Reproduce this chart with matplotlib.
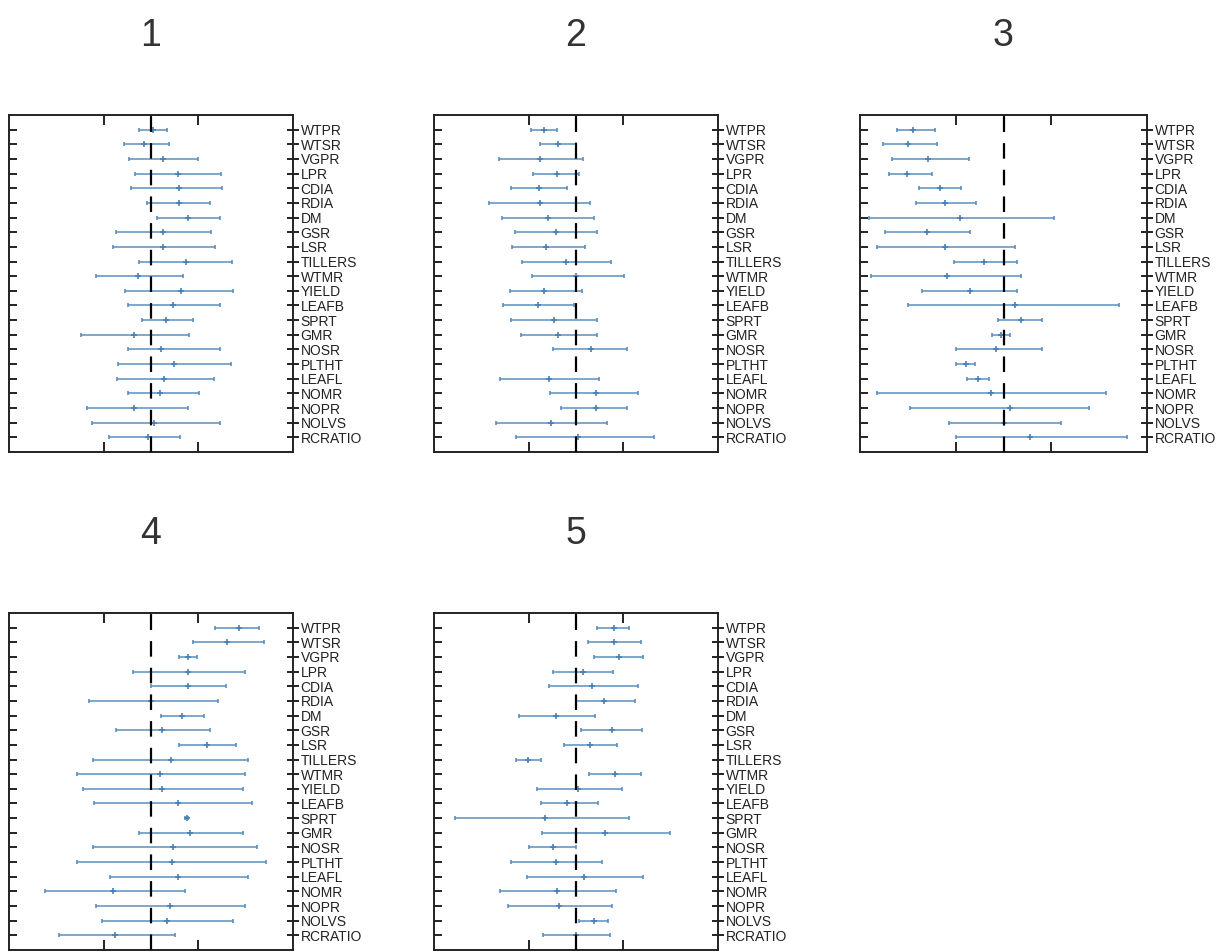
import numpy as np
import matplotlib
matplotlib.use("Agg")
import matplotlib.pyplot as plt

plt.rcParams['font.family'] = ['Liberation Sans', 'DejaVu Sans']

# trait names, top to bottom
traits = ['WTPR', 'WTSR', 'VGPR', 'LPR', 'CDIA', 'RDIA', 'DM', 'GSR', 'LSR',
          'TILLERS', 'WTMR', 'YIELD', 'LEAFB', 'SPRT', 'GMR', 'NOSR', 'PLTHT',
          'LEAFL', 'NOMR', 'NOPR', 'NOLVS', 'RCRATIO']

# cluster 1
mid_1 = [0.04, -0.14, 0.25, 0.57, 0.59, 0.60, 0.78, 0.25, 0.26, 0.73, -0.28,
         0.64, 0.46, 0.32, -0.35, 0.21, 0.49, 0.28, 0.18, -0.35, 0.06, -0.07]
lo_1 = [-0.26, -0.58, -0.46, -0.33, -0.42, -0.09, 0.13, -0.74, -0.80, -0.26, -1.17,
        -0.55, -0.49, -0.20, -1.47, -0.49, -0.69, -0.71, -0.48, -1.36, -1.24, -0.88]
hi_1 = [0.33, 0.37, 0.99, 1.47, 1.51, 1.24, 1.46, 1.27, 1.36, 1.72, 0.67,
        1.73, 1.45, 0.88, 0.81, 1.46, 1.68, 1.34, 1.02, 0.79, 1.45, 0.61]

# cluster 2 (no estimate for PLTHT)
mid_2 = [-0.67, -0.39, -0.77, -0.40, -0.79, -0.77, -0.60, -0.42, -0.63, -0.21, 0.00,
         -0.67, -0.81, -0.46, -0.39, 0.32, np.nan, -0.56, 0.42, 0.42, -0.53, 0.04]
lo_2 = [-0.96, -0.77, -1.62, -0.90, -1.37, -1.83, -1.56, -1.28, -1.36, -1.14, -0.92,
        -1.39, -1.54, -1.37, -1.16, -0.49, np.nan, -1.60, -0.54, -0.32, -1.70, -1.27]
hi_2 = [-0.40, 0.01, 0.14, 0.07, -0.18, 0.30, 0.37, 0.44, 0.18, 0.73, 1.02,
        0.12, -0.04, 0.44, 0.44, 1.07, np.nan, 0.49, 1.30, 1.07, 0.65, 1.64]

# cluster 3
mid_3 = [-1.90, -1.99, -1.57, -2.01, -1.32, -1.22, -0.90, -1.60, -1.22, -0.40, -1.18,
         -0.69, 0.25, 0.37, -0.05, -0.16, -0.79, -0.54, -0.26, 0.13, 0.02, 0.55]
lo_3 = [-2.22, -2.52, -2.33, -2.40, -1.76, -1.83, -2.81, -2.47, -2.64, -1.04, -2.76,
        -1.70, -1.99, -0.12, -0.24, -1.00, -1.00, -0.76, -2.64, -1.96, -1.14, -1.00]
hi_3 = [-1.43, -1.40, -0.72, -1.50, -0.88, -0.58, 1.05, -0.71, 0.23, 0.28, 0.37,
        0.28, 2.42, 0.81, 0.14, 0.81, -0.59, -0.31, 2.14, 1.79, 1.21, 2.59]

# cluster 4
mid_4 = [1.85, 1.60, 0.79, 0.79, 0.79, 0.01, 0.65, 0.23, 1.18, 0.42, 0.19,
         0.23, 0.58, 0.75, 0.82, 0.47, 0.44, 0.58, -0.80, 0.40, 0.33, -0.76]
lo_4 = [1.35, 0.88, 0.59, -0.39, 0.00, -1.32, 0.21, -0.74, 0.59, -1.22, -1.56,
        -1.44, -1.20, 0.72, -0.25, -1.23, -1.57, -0.87, -2.25, -1.16, -1.04, -1.94]
hi_4 = [2.29, 2.39, 0.98, 1.99, 1.58, 1.42, 1.13, 1.25, 1.80, 2.04, 1.99,
        1.94, 2.13, 0.78, 1.94, 2.23, 2.43, 2.04, 0.72, 1.99, 1.73, 0.51]

# cluster 5
mid_5 = [0.80, 0.80, 0.91, 0.15, 0.34, 0.59, -0.42, 0.77, 0.30, -1.01, 0.82,
         0.04, -0.18, -0.65, 0.62, -0.48, -0.43, 0.16, -0.40, -0.35, 0.38, 0.00]
lo_5 = [0.45, 0.26, 0.39, -0.48, -0.58, 0.00, -1.20, 0.11, -0.26, -1.27, 0.27,
        -0.82, -0.74, -2.55, -0.72, -0.99, -1.38, -1.04, -1.61, -1.43, 0.06, -0.69]
hi_5 = [1.13, 1.38, 1.42, 0.78, 1.30, 1.25, 0.40, 1.40, 0.86, -0.74, 1.38,
        0.98, 0.47, 1.13, 1.99, 0.00, 0.54, 1.42, 0.84, 0.77, 0.68, 0.71]

titles = ['1', '2', '3', '4', '5']
panels = [(mid_1, lo_1, hi_1), (mid_2, lo_2, hi_2), (mid_3, lo_3, hi_3),
          (mid_4, lo_4, hi_4), (mid_5, lo_5, hi_5)]

W, H = 1224, 952
fig = plt.figure(figsize=(W / 100, H / 100), dpi=100)

# axes boxes in pixels: left, top, right, bottom
boxes = [(9, 115, 293, 452), (434, 115, 718, 452), (860, 115, 1147, 452),
         (9, 613, 293, 950), (434, 613, 718, 950)]

ypos = np.arange(len(traits), 0, -1)
ink = '#222222'

for (l, t, r, b), title, (mid, lo, hi) in zip(boxes, titles, panels):
    ax = fig.add_axes([l / W, 1 - b / H, (r - l) / W, (b - t) / H])
    mid = np.array(mid)
    err = np.vstack([mid - np.array(lo), np.array(hi) - mid])
    ax.axvline(0, color='black', lw=1.6, ls=(0, (7, 5)), zorder=3)
    ax.errorbar(mid, ypos, xerr=err, fmt='+', color='#4a80b4', ecolor='#5a8fc0',
                elinewidth=1.1, capsize=1.5, capthick=1.1, ms=5, mew=1.2, zorder=2)
    ax.set_xlim(-3, 3)
    ax.set_ylim(0, len(traits) + 1)
    ax.set_xticks([-1, 0, 1])
    ax.set_xticklabels([])
    ax.tick_params(axis='x', top=True, bottom=True, direction='in', length=7,
                   width=1.4, color=ink)

    # left side: short inward ticks only
    ax.set_yticks(ypos)
    ax.set_yticklabels([])
    ax.tick_params(axis='y', left=True, right=False, direction='in', length=6,
                   width=1.4, color=ink)

    # right side: ticks through the spine, trait names
    sec = ax.secondary_yaxis('right')
    sec.set_yticks(ypos)
    sec.set_yticklabels(traits, fontsize=10, color=ink)
    sec.tick_params(direction='inout', length=9, width=1.4, pad=1, color=ink)
    sec.spines['right'].set_visible(False)

    for s in ax.spines.values():
        s.set_linewidth(1.4)
        s.set_color(ink)
    ax.set_title(title, fontsize=27, color='#333333', pad=50)

fig.savefig('out.png', dpi=100)
